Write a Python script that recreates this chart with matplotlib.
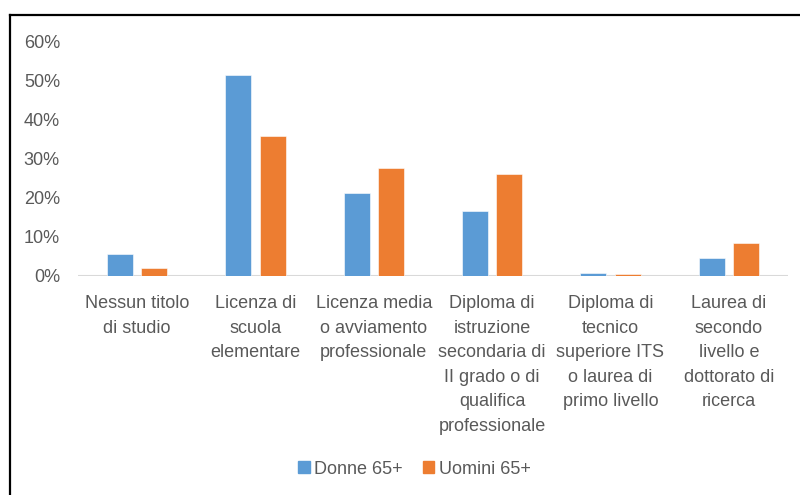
import matplotlib.pyplot as plt
import numpy as np
from matplotlib.lines import Line2D
from matplotlib.patches import Patch
import matplotlib.ticker as ticker

# ===== Data (share of people 65+) =====
categories = [
    "Nessun titolo\ndi studio",
    "Licenza di\nscuola\nelementare",
    "Licenza media\no avviamento\nprofessionale",
    "Diploma di\nistruzione\nsecondaria di\nII grado o di\nqualifica\nprofessionale",
    "Diploma di\ntecnico\nsuperiore ITS\no laurea di\nprimo livello",
    "Laurea di\nsecondo\nlivello e\ndottorato di\nricerca",
]
donne = [0.055, 0.515, 0.212, 0.165, 0.007, 0.046]
uomini = [0.019, 0.359, 0.276, 0.260, 0.004, 0.084]
series_names = ["Donne 65+", "Uomini 65+"]

# ===== Style =====
blue = "#5B9BD5"
orange = "#ED7D31"
text_grey = "#595959"
font_name = "Liberation Sans"
font_size = 13
plt.rcParams['font.family'] = [font_name, 'DejaVu Sans']

fig = plt.figure(figsize=(8, 4.95), dpi=100)
ax = fig.add_axes([0.0975, 0.4434, 0.8875, 0.4718])

x = np.arange(len(categories))
bar_w = 0.22
offset = 0.144
ax.bar(x - offset, donne, bar_w, color=blue, edgecolor="white", linewidth=0.4)
ax.bar(x + offset, uomini, bar_w, color=orange, edgecolor="white", linewidth=0.4)

ax.set_xlim(-0.5, len(categories) - 0.5)
ax.set_ylim(0, 0.6)
ax.set_yticks(np.arange(0, 0.61, 0.1))
ax.yaxis.set_major_formatter(ticker.FuncFormatter(lambda v, p: f"{v*100:.0f}%"))
ax.set_xticks(x)
ax.set_xticklabels(categories, linespacing=1.58, va="top")

ax.tick_params(axis='both', length=0, labelsize=font_size, colors=text_grey)
ax.tick_params(axis='y', pad=13)
ax.tick_params(axis='x', pad=14)

for s in ax.spines.values():
    s.set_visible(False)
ax.axhline(0, color="#D9D9D9", linewidth=1.5, zorder=0)

# ===== Legend =====
handles = [Patch(color=blue), Patch(color=orange)]
fig.legend(handles, series_names, loc="center", bbox_to_anchor=(0.518, 0.0525),
           ncol=2, frameon=False, fontsize=font_size, handlelength=0.65, handleheight=0.65,
           handletextpad=0.25, columnspacing=1.1, labelcolor=text_grey)

# ===== Chart border (cropped at right/bottom) =====
fig.add_artist(Line2D([0.012, 1.0], [0.969, 0.969], color="black", linewidth=1.6,
                      transform=fig.transFigure))
fig.add_artist(Line2D([0.012, 0.012], [0.0, 0.969], color="black", linewidth=1.6,
                      transform=fig.transFigure))

plt.savefig("out.png", dpi=100)
